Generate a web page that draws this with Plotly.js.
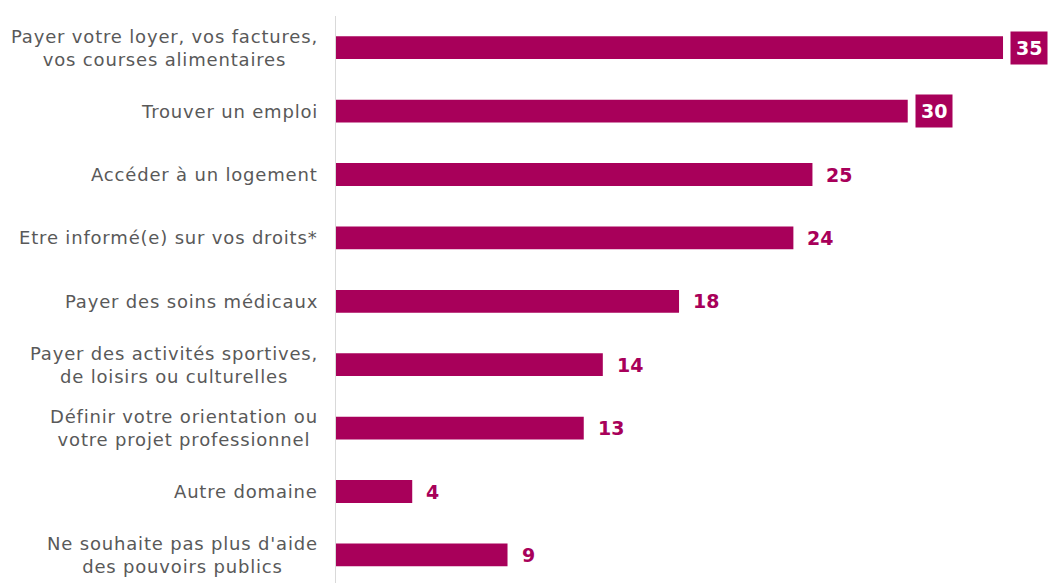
<!DOCTYPE html>
<html><head><meta charset="utf-8">
<script src="https://cdn.plot.ly/plotly-3.0.1.min.js"></script>
<style>html,body{margin:0;padding:0;background:#fff;}#chart{width:1048px;height:583px;}</style>
</head><body><div id="chart"></div>
<script>
const categories = [
  "Payer votre loyer, vos factures,<br>vos courses alimentaires",
  "Trouver un emploi",
  "Accéder à un logement",
  "Etre informé(e) sur vos droits*",
  "Payer des soins médicaux",
  "Payer des activités sportives,<br>de loisirs ou culturelles",
  "Définir votre orientation ou<br>votre projet professionnel",
  "Autre domaine",
  "Ne souhaite pas plus d'aide<br>des pouvoirs publics"
];
const values = [35, 30, 25, 24, 18, 14, 13, 4, 9];

const BAR = '#A8005A';
const FONT = 'DejaVu Sans, Verdana, sans-serif';
const idx = categories.map((_, i) => i);

const annotations = [];
categories.forEach((c, i) => {
  const txt = c.split('<br>').map(l => '<span style="letter-spacing:0.82px">' + l + '</span>').join('<br>');
  annotations.push({
    x: 0, y: i, xref: 'x', yref: 'y', text: txt, showarrow: false,
    xanchor: 'right', yanchor: 'middle', align: 'center', xshift: -16,
    font: {family: FONT, size: 18, color: '#595959'}
  });
});
values.forEach((v, i) => {
  const boxed = v >= 30;
  annotations.push({
    x: v, y: i, xref: 'x', yref: 'y', text: '<b>' + v + '</b>', showarrow: false,
    xanchor: 'left', yanchor: 'middle', xshift: boxed ? 7 : 11,
    bgcolor: boxed ? BAR : 'rgba(0,0,0,0)', borderpad: boxed ? 5 : 2,
    font: {family: FONT, size: 19, color: boxed ? '#ffffff' : BAR}
  });
});

const trace = {
  type: 'bar', orientation: 'h', x: values, y: idx,
  width: 0.36, marker: {color: BAR}, hoverinfo: 'skip'
};

const layout = {
  width: 1048, height: 583,
  margin: {l: 336, r: 0, t: 16, b: 0},
  paper_bgcolor: '#fff', plot_bgcolor: '#fff',
  showlegend: false,
  xaxis: {range: [0, 37.36], visible: false, fixedrange: true},
  yaxis: {range: [8.443, -0.5], showticklabels: false, showgrid: false,
          zeroline: false, showline: true, linecolor: '#d9d9d9', linewidth: 1,
          ticks: '', fixedrange: true},
  annotations: annotations
};
Plotly.newPlot('chart', [trace], layout, {displayModeBar: false, staticPlot: true});
</script></body></html>
